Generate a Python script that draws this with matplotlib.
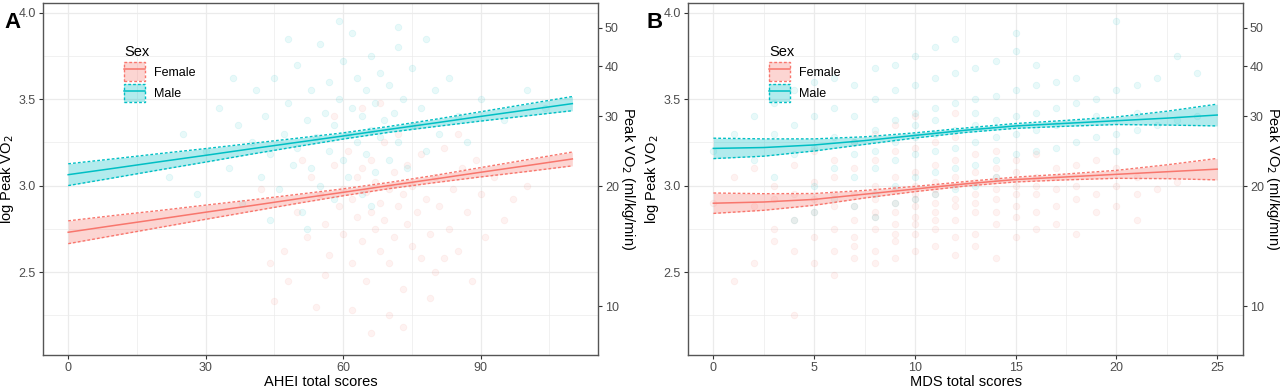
import numpy as np
import matplotlib.pyplot as plt
from matplotlib.patches import Patch
from matplotlib.lines import Line2D
from matplotlib.legend_handler import HandlerTuple

plt.rcParams['font.family'] = ['Liberation Sans', 'DejaVu Sans']

# ---- fitted lines with 95% CI ----
ahei_grid = [0, 10, 20, 30, 40, 50, 60, 70, 80, 90, 100, 110]
ahei_f_fit = [2.730, 2.769, 2.807, 2.846, 2.884, 2.923, 2.961, 3.000, 3.038, 3.077, 3.115, 3.154]
ahei_f_hw = [0.066, 0.058, 0.049, 0.041, 0.033, 0.026, 0.020, 0.018, 0.021, 0.027, 0.034, 0.040]
ahei_m_fit = [3.063, 3.100, 3.138, 3.175, 3.213, 3.250, 3.287, 3.325, 3.362, 3.400, 3.437, 3.474]
ahei_m_hw = [0.063, 0.055, 0.047, 0.039, 0.031, 0.024, 0.018, 0.017, 0.021, 0.027, 0.034, 0.041]

mds_grid = [0, 2.5, 5, 7.5, 10, 12.5, 15, 17.5, 20, 22.5, 25]
mds_f_fit = [2.898, 2.905, 2.920, 2.950, 2.980, 3.010, 3.035, 3.050, 3.065, 3.080, 3.095]
mds_f_hw = [0.059, 0.048, 0.034, 0.022, 0.015, 0.013, 0.014, 0.017, 0.023, 0.040, 0.062]
mds_m_fit = [3.215, 3.220, 3.235, 3.260, 3.290, 3.320, 3.345, 3.360, 3.375, 3.390, 3.408]
mds_m_hw = [0.059, 0.050, 0.035, 0.022, 0.015, 0.013, 0.014, 0.017, 0.022, 0.040, 0.063]

# ---- raw observations (approximate) ----
ahei_f_x = [45, 47, 50, 52, 53, 55, 56, 57, 58, 59, 60, 60, 61, 62, 62, 63, 63, 64, 64, 65,
            65, 66, 66, 67, 67, 68, 68, 69, 69, 70, 70, 71, 71, 72, 72, 73, 73, 74, 74, 75,
            75, 76, 77, 77, 78, 79, 80, 80, 81, 82, 83, 84, 85, 86, 87, 88, 90, 91, 93, 95,
            97, 100, 42, 48, 54, 66, 70, 58, 76, 64, 44, 51, 82, 89, 68, 73, 62, 79, 85, 56]
ahei_f_y = [2.33, 2.62, 2.85, 2.70, 3.05, 2.95, 2.78, 2.60, 3.12, 2.88, 2.98, 2.72, 3.20, 2.55, 2.92, 3.05, 2.82, 2.68, 3.10, 2.96,
            2.45, 3.15, 2.85, 2.75, 3.02, 2.90, 2.62, 3.25, 2.80, 2.98, 2.55, 3.08, 2.70, 2.88, 3.30, 2.95, 2.40, 3.12, 2.78, 2.65,
            3.00, 2.85, 3.18, 2.58, 2.92, 2.72, 3.05, 2.50, 2.88, 3.22, 2.75, 2.98, 2.62, 3.10, 2.85, 2.45, 2.95, 2.70, 3.05, 2.80,
            2.92, 3.00, 2.98, 2.45, 2.30, 2.15, 2.25, 3.40, 3.35, 3.45, 2.55, 3.15, 2.58, 3.15, 3.48, 2.18, 2.28, 2.35, 3.30, 2.48]
ahei_m_x = [22, 25, 28, 30, 33, 35, 37, 38, 40, 41, 42, 43, 44, 45, 46, 47, 48, 49, 50, 50,
            51, 52, 53, 53, 54, 55, 55, 56, 57, 57, 58, 58, 59, 60, 60, 61, 61, 62, 62, 63,
            63, 64, 64, 65, 65, 66, 66, 67, 67, 68, 68, 69, 70, 70, 71, 72, 72, 73, 74, 75,
            75, 77, 78, 80, 81, 83, 85, 87, 90, 95, 100, 104, 36, 48, 59, 72, 44, 52, 66, 78]
ahei_m_y = [3.05, 3.30, 2.95, 3.20, 3.45, 3.10, 3.35, 2.90, 3.25, 3.55, 3.05, 3.40, 3.18, 3.62, 2.98, 3.30, 3.48, 3.12, 3.70, 3.22,
            2.85, 3.38, 3.55, 3.10, 3.28, 3.82, 3.00, 3.42, 3.20, 3.60, 3.35, 2.92, 3.50, 3.15, 3.72, 3.30, 3.05, 3.45, 3.88, 3.25,
            3.62, 2.95, 3.40, 3.18, 3.55, 3.32, 3.75, 3.08, 3.48, 3.28, 3.65, 3.38, 3.15, 3.58, 3.42, 3.25, 3.80, 3.50, 3.10, 3.35,
            3.68, 3.45, 3.20, 3.55, 3.30, 3.62, 3.40, 3.25, 3.50, 3.38, 3.55, 3.45, 3.62, 3.85, 3.95, 3.92, 2.80, 2.75, 2.88, 3.85]

# MDS: one list of log peak VO2 values per total score 0..25
mds_f_y = [
    [2.90], [2.45, 3.05], [2.88, 2.55, 3.10], [2.75, 3.00, 2.92, 2.68],
    [2.25, 2.95, 2.80, 3.12, 2.62], [2.70, 2.85, 3.02, 2.55, 2.92, 3.20],
    [2.62, 2.88, 3.05, 2.75, 2.95, 2.48, 3.15], [2.58, 2.80, 2.95, 3.10, 2.70, 2.88, 3.25, 2.65],
    [2.62, 2.85, 3.00, 2.75, 2.92, 3.15, 2.55, 3.30, 2.82],
    [2.68, 2.90, 3.05, 2.78, 2.98, 3.20, 2.58, 2.85, 3.35, 2.72],
    [2.72, 2.95, 3.08, 2.82, 3.00, 3.22, 2.62, 2.88, 3.40, 2.78, 2.92],
    [2.75, 2.98, 3.12, 2.85, 3.02, 3.25, 2.65, 2.90, 2.80, 2.95],
    [2.80, 3.00, 3.15, 2.88, 3.05, 3.28, 2.70, 2.92, 3.42, 2.60],
    [2.72, 3.02, 3.18, 2.90, 3.08, 2.85, 2.95, 2.65],
    [2.78, 3.05, 3.20, 2.92, 3.10, 2.85, 2.98, 2.58],
    [2.82, 3.08, 2.95, 3.15, 2.88, 3.00, 2.70], [2.85, 3.05, 2.95, 3.18, 2.75, 3.00],
    [2.88, 3.10, 2.98, 2.78, 3.05], [2.92, 3.12, 2.72, 3.00], [2.95, 3.15, 2.85],
    [3.00, 2.88, 3.10], [2.95, 3.05, 2.80], [2.98], [3.02], [], [],
]
mds_m_y = [
    [3.20], [3.30], [3.15, 3.40], [3.05, 3.30, 3.48], [2.80, 3.18, 3.35, 3.55],
    [3.00, 3.22, 3.40, 2.85, 3.60], [3.10, 3.28, 3.45, 2.92, 3.62],
    [3.05, 3.25, 3.40, 3.58, 2.88, 3.18], [2.95, 3.20, 3.32, 3.50, 3.68, 3.10, 2.82],
    [3.00, 3.25, 3.38, 3.55, 3.70, 3.15, 2.90], [3.05, 3.28, 3.42, 3.58, 3.75, 3.18, 2.92, 3.35],
    [3.08, 3.30, 3.45, 3.62, 3.80, 3.20, 2.95, 3.38], [3.10, 3.32, 3.48, 3.65, 3.85, 3.22, 2.98],
    [3.12, 3.35, 3.50, 3.68, 3.25, 3.00, 3.42], [3.15, 3.38, 3.52, 3.72, 3.28, 3.05],
    [3.18, 3.40, 3.55, 3.78, 3.30, 3.88], [3.20, 3.42, 3.58, 3.32, 3.70],
    [3.22, 3.45, 3.60, 3.35], [3.25, 3.48, 3.62], [3.28, 3.50, 3.40],
    [3.30, 3.55, 3.95, 3.20], [3.32, 3.58, 3.42], [3.35, 3.62], [3.38, 3.75], [3.40, 3.65], [],
]

sec_ticks = [10, 20, 30, 40, 50]
f_col = '#F8766D'
m_col = '#00BFC4'


def flatten(cols):
    xs, ys = [], []
    for s, vals in enumerate(cols):
        xs += [s] * len(vals)
        ys += vals
    return xs, ys


def panel(ax, xlab, grid, f_fit, f_hw, m_fit, m_hw, fx, fy, mx, my, xlim, major, minor):
    ax.scatter(fx, fy, s=22, facecolor=f_col, edgecolor=f_col, alpha=0.09, lw=0.6, zorder=2)
    ax.scatter(mx, my, s=22, facecolor=m_col, edgecolor=m_col, alpha=0.09, lw=0.6, zorder=2)
    for fit, hw, c in [(f_fit, f_hw, f_col), (m_fit, m_hw, m_col)]:
        fit = np.array(fit); hw = np.array(hw)
        ax.fill_between(grid, fit - hw, fit + hw, color=c, alpha=0.3, lw=0, zorder=3)
        ax.plot(grid, fit - hw, color=c, lw=1.0, ls=(0, (2, 1.5)), zorder=4)
        ax.plot(grid, fit + hw, color=c, lw=1.0, ls=(0, (2, 1.5)), zorder=4)
        ax.plot(grid, fit, color=c, lw=1.1, zorder=5)

    ax.set_xlim(*xlim)
    ax.set_ylim(2.02, 4.056)
    ax.set_xticks(major)
    ax.set_xticks(minor, minor=True)
    ax.set_yticks([2.5, 3.0, 3.5, 4.0])
    ax.set_yticks([2.25, 2.75, 3.25, 3.75], minor=True)
    ax.grid(which='major', color='#EBEBEB', lw=0.9, zorder=0)
    ax.grid(which='minor', color='#EBEBEB', lw=0.5, zorder=0)
    ax.set_axisbelow(True)
    ax.tick_params(which='minor', length=0)
    ax.tick_params(which='major', length=3, color='#333333', labelsize=9, labelcolor='#4D4D4D', pad=2)
    for sp in ax.spines.values():
        sp.set_color('#555555')
        sp.set_linewidth(1.0)
    ax.set_xlabel(xlab, fontsize=10.5, labelpad=1)
    ax.set_ylabel('log Peak VO$_2$', fontsize=10.5, labelpad=2)

    sec = ax.secondary_yaxis('right', functions=(np.exp, np.log))
    sec.set_yticks(sec_ticks)
    sec.tick_params(length=3, color='#333333', labelsize=9, labelcolor='#4D4D4D', pad=2)
    sec.spines['right'].set_visible(False)
    sec.set_ylabel('Peak VO$_2$ (ml/kg/min)', fontsize=10.5, rotation=270, labelpad=13)

    dash = (0, (2, 1.5))
    hf = (Patch(facecolor=f_col, alpha=0.3, edgecolor='none'),
          Patch(facecolor='none', edgecolor=f_col, ls=dash, lw=1.0),
          Line2D([], [], color=f_col, lw=1.1))
    hm = (Patch(facecolor=m_col, alpha=0.3, edgecolor='none'),
          Patch(facecolor='none', edgecolor=m_col, ls=dash, lw=1.0),
          Line2D([], [], color=m_col, lw=1.1))
    leg = ax.legend([hf, hm], ['Female', 'Male'], title='Sex',
                    handler_map={tuple: HandlerTuple(ndivide=1, pad=0)},
                    loc='upper left', bbox_to_anchor=(0.13, 0.905), frameon=False,
                    fontsize=9, title_fontsize=10.5, handlelength=1.7, handleheight=1.9,
                    handletextpad=0.7, labelspacing=0.25, borderpad=0.2)
    leg._legend_box.align = 'left'
    return ax


fig = plt.figure(figsize=(12.8, 3.87), dpi=100)
axA = fig.add_axes([43 / 1280, 32 / 387, 555 / 1280, 352 / 387])
axB = fig.add_axes([688 / 1280, 32 / 387, 555 / 1280, 352 / 387])

panel(axA, 'AHEI total scores', ahei_grid, ahei_f_fit, ahei_f_hw, ahei_m_fit, ahei_m_hw,
      ahei_f_x, ahei_f_y, ahei_m_x, ahei_m_y, (-5.5, 115.6), [0, 30, 60, 90], [15, 45, 75, 105])

bfx, bfy = flatten(mds_f_y)
bmx, bmy = flatten(mds_m_y)
panel(axB, 'MDS total scores', mds_grid, mds_f_fit, mds_f_hw, mds_m_fit, mds_m_hw,
      bfx, bfy, bmx, bmy, (-1.26, 26.28), [0, 5, 10, 15, 20, 25], [2.5, 7.5, 12.5, 17.5, 22.5])

fig.text(4 / 1280, 1 - 28 / 387, 'A', fontsize=16, fontweight='bold', va='baseline', ha='left')
fig.text(647 / 1280, 1 - 28 / 387, 'B', fontsize=16, fontweight='bold', va='baseline', ha='left')

fig.savefig('out.png', dpi=100)
